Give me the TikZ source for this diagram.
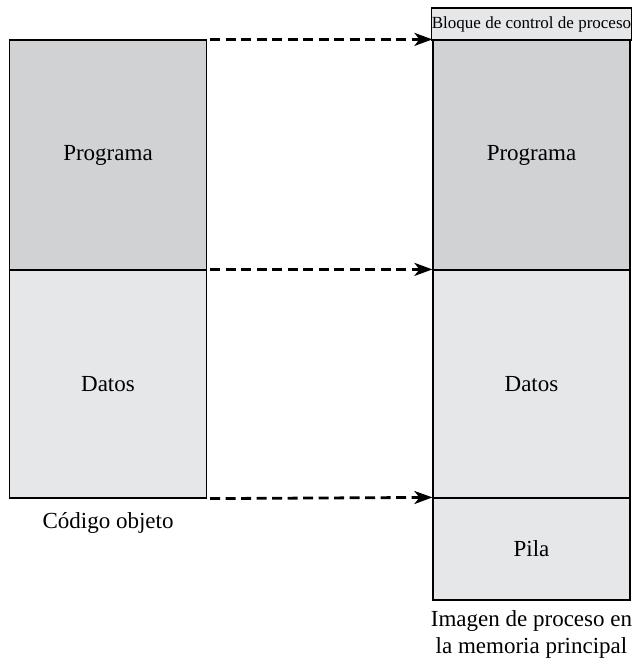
\documentclass[tikz,border=0pt]{standalone}
\usepackage{fontspec}
\setmainfont{Liberation Serif}
\newfontfamily\labelfont{Liberation Serif}
\usetikzlibrary{arrows.meta,positioning}

\definecolor{progfill}{RGB}{209,210,212}
\definecolor{datfill}{RGB}{230,231,232}

\tikzset{
    segment/.style={draw, line width=1.2pt, minimum width=197pt, inner sep=0pt,
                    font=\labelfont\fontsize{23}{26}\selectfont},
    caption/.style={font=\labelfont\fontsize{23}{27}\selectfont, align=center},
    loadarrow/.style={line width=2.8pt, dash pattern=on 10pt off 5.5pt,
                      -{Stealth[length=18pt,width=13pt,inset=5pt]}, shorten <=3pt}
}

\begin{document}
\begin{tikzpicture}[x=1pt,y=-1pt]
        \useasboundingbox (0,0) rectangle (640,664);

        % object code (left)
        \node[segment, fill=progfill, minimum height=230pt] (lprog) at (108,155) {Programa};
        \node[segment, fill=datfill, minimum height=228pt] (ldat) at (108,384) {Datos};
        \node[caption, below=10pt of ldat] (lcap) {C\'odigo objeto};

        % process image (right)
        \node[segment, fill=datfill, minimum height=32pt,
              font=\labelfont\fontsize{17}{20}\selectfont] (bcp) at (531.5,24) {Bloque de control de proceso};
        \node[segment, fill=progfill, minimum height=230pt] (rprog) at (531.5,155) {Programa};
        \node[segment, fill=datfill, minimum height=228pt] (rdat) at (531.5,384) {Datos};
        \node[segment, fill=datfill, minimum height=102pt] (pila) at (531.5,549) {Pila};
        \node[caption, below=6pt of pila] (rcap) {Imagen de proceso en\\la memoria principal};

        % arrows
        \draw[loadarrow] (lprog.north east) -- (rprog.north west);
        \draw[loadarrow] (ldat.north east) -- (rdat.north west);
        \draw[loadarrow] (ldat.south east) -- (pila.north west);
\end{tikzpicture}
\end{document}
